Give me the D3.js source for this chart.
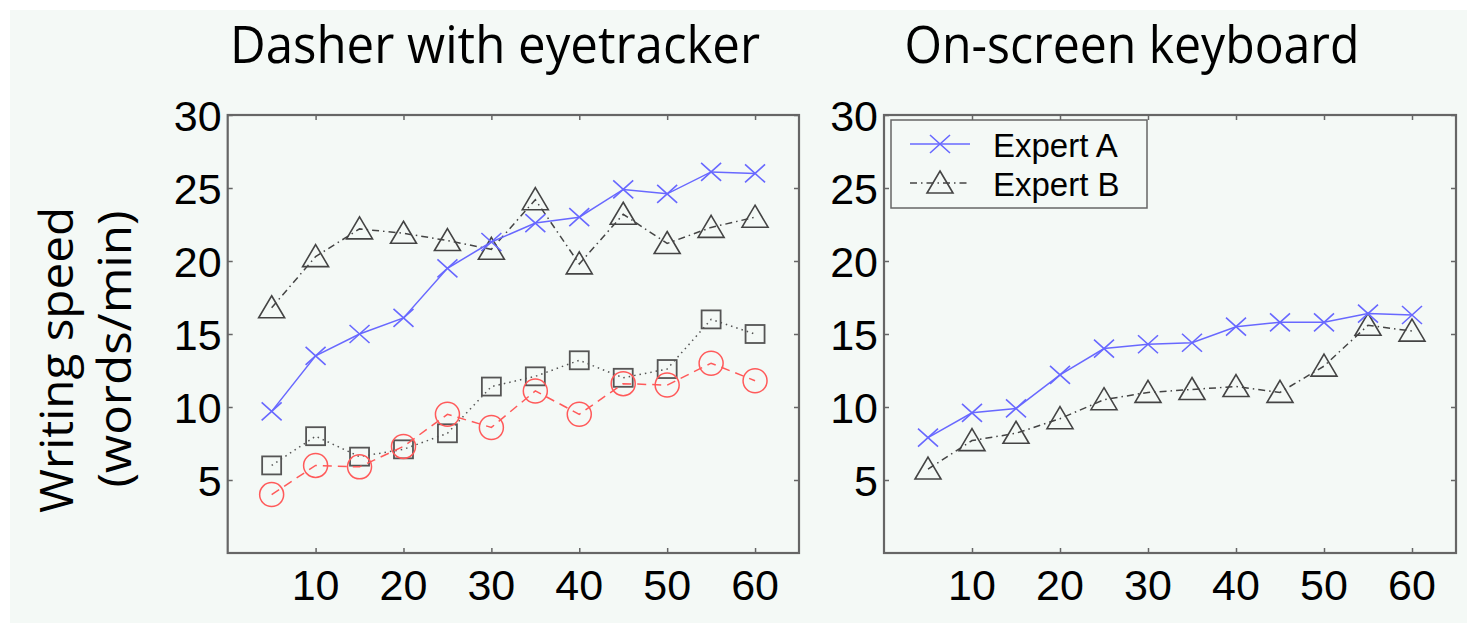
<!DOCTYPE html>
<html>
<head>
<meta charset="utf-8">
<script src="https://cdn.jsdelivr.net/npm/d3@7"></script>
<style>
  html, body { margin: 0; padding: 0; background: #fff; }
  svg { display: block; }
</style>
</head>
<body>
<svg id="chart" width="1467" height="623"></svg>
<script>
// minutes of practice
var minutes = [5, 10, 15, 20, 25, 30, 35, 40, 45, 50, 55, 60];

// Dasher with eyetracker
var dasherA      = [9.7, 13.5, 15.0, 16.1, 19.5, 21.3, 22.6, 23.0, 24.9, 24.6, 26.1, 26.0];
var dasherB      = [16.8, 20.3, 22.2, 21.9, 21.4, 20.8, 24.2, 19.8, 23.2, 21.2, 22.3, 23.0];
var dasherSquare = [6.0, 8.0, 6.6, 7.1, 8.2, 11.4, 12.1, 13.2, 12.0, 12.6, 16.0, 15.0];
var dasherCircle = [4.0, 6.0, 5.9, 7.3, 9.5, 8.6, 11.1, 9.5, 11.6, 11.5, 13.0, 11.8];

// On-screen keyboard
var keyboardA = [7.9, 9.6, 9.9, 12.2, 14.0, 14.3, 14.4, 15.5, 15.8, 15.8, 16.4, 16.3];
var keyboardB = [5.75, 7.7, 8.2, 9.2, 10.5, 11.0, 11.2, 11.4, 11.0, 12.8, 15.6, 15.2];

var xTicks = [10, 20, 30, 40, 50, 60];
var yTicks = [5, 10, 15, 20, 25, 30];
var panelTitles = ["Dasher with eyetracker", "On-screen keyboard"];
var legendLabels = ["Expert A", "Expert B"];
var yLabelLines = ["Writing speed", "(words/min)"];

var svg = d3.select("#chart");
var BG = "#f4f9f6", AXIS = "#666";

svg.append("rect").attr("x", 10).attr("y", 10).attr("width", 1457).attr("height", 613).attr("fill", BG);

// marker shapes
var markers = {
  x: function(g, c) {
    g.append("path").attr("d", "M-10,-9L10,9M-10,9L10,-9").attr("stroke", c).attr("stroke-width", 1.6).attr("fill", "none");
  },
  tri: function(g, c) {
    g.append("path").attr("d", "M0,-12L13,10L-13,10Z").attr("stroke", c).attr("stroke-width", 1.6).attr("fill", "none");
  },
  square: function(g, c) {
    g.append("rect").attr("x", -9.5).attr("y", -9).attr("width", 19).attr("height", 18)
      .attr("stroke", c).attr("stroke-width", 1.8).attr("fill", "none");
  },
  circle: function(g, c) {
    g.append("circle").attr("r", 12).attr("stroke", c).attr("stroke-width", 1.5).attr("fill", "none");
  }
};

var styles = {
  A:      {color: "#6868ff", dash: null,          marker: "x"},
  B:      {color: "#444",    dash: "7,4,1.5,4",   marker: "tri"},
  square: {color: "#555",    dash: "1.5,4",       marker: "square"},
  circle: {color: "#ff5a5a", dash: "9,6",         marker: "circle"}
};

// title: centre x and width as in the figure
function drawPanel(x0, x1, title, titleX, titleW, series) {
  var y0 = 115, y1 = 553;
  var x = d3.scaleLinear().domain([0, 65]).range([x0, x1]);
  var y = d3.scaleLinear().domain([0, 30]).range([y1, y0]);
  var g = svg.append("g");

  // box with inward ticks on all sides
  g.append("rect").attr("x", x0).attr("y", y0).attr("width", x1 - x0).attr("height", y1 - y0)
    .attr("fill", "none").attr("stroke", AXIS).attr("stroke-width", 2.2);

  var ax = [
    [d3.axisBottom(x), "translate(0," + y1 + ")", xTicks],
    [d3.axisTop(x), "translate(0," + y0 + ")", xTicks],
    [d3.axisLeft(y), "translate(" + x0 + ",0)", yTicks],
    [d3.axisRight(y), "translate(" + x1 + ",0)", yTicks]
  ];
  ax.forEach(function(a) {
    var s = g.append("g").attr("transform", a[1])
      .call(a[0].tickValues(a[2]).tickSize(-5).tickFormat(""));
    s.select(".domain").remove();
    s.selectAll("line").attr("stroke", AXIS).attr("stroke-width", 1.5);
  });

  g.selectAll(".xl").data(xTicks).enter().append("text")
    .attr("x", function(d) { return x(d); }).attr("y", y1 + 47)
    .attr("text-anchor", "middle").attr("font-family", "Liberation Sans, Arial, sans-serif")
    .attr("font-size", 43).attr("fill", "#000").text(function(d) { return d; });
  g.selectAll(".yl").data(yTicks).enter().append("text")
    .attr("x", x0 - 6).attr("y", function(d) { return y(d) + 16; })
    .attr("text-anchor", "end").attr("font-family", "Liberation Sans, Arial, sans-serif")
    .attr("font-size", 43).attr("fill", "#000").text(function(d) { return d; });

  g.append("text").attr("x", titleX - titleW / 2).attr("y", 63)
    .attr("textLength", titleW).attr("lengthAdjust", "spacingAndGlyphs")
    .attr("font-family", "Open Sans, sans-serif")
    .attr("font-size", 51).attr("fill", "#000").text(title);

  series.forEach(function(s) {
    var st = styles[s.style];
    var pts = minutes.map(function(m, i) { return [x(m), y(s.values[i])]; });
    g.append("path").attr("d", d3.line()(pts)).attr("fill", "none")
      .attr("stroke", st.color).attr("stroke-width", 1.5)
      .attr("stroke-dasharray", st.dash);
    pts.forEach(function(p) {
      markers[st.marker](g.append("g").attr("transform", "translate(" + p[0] + "," + p[1] + ")"), st.color);
    });
  });
}

drawPanel(227.7, 799, panelTitles[0], 495, 530, [
  {values: dasherSquare, style: "square"},
  {values: dasherCircle, style: "circle"},
  {values: dasherB, style: "B"},
  {values: dasherA, style: "A"}
]);
drawPanel(884, 1456, panelTitles[1], 1132, 455, [
  {values: keyboardB, style: "B"},
  {values: keyboardA, style: "A"}
]);

// y label, two lines reading upwards
var yLabelPos = [{c: 360, w: 306, base: 73}, {c: 349, w: 277, base: 131}];
yLabelLines.forEach(function(t, i) {
  var p = yLabelPos[i];
  svg.append("text").attr("transform", "translate(" + p.base + "," + (p.c + p.w / 2) + ") rotate(-90)")
    .attr("textLength", p.w).attr("lengthAdjust", "spacingAndGlyphs")
    .attr("font-family", "Open Sans, sans-serif")
    .attr("font-size", 46).attr("fill", "#000").text(t);
});

// legend
var lg = svg.append("g");
lg.append("rect").attr("x", 891).attr("y", 120).attr("width", 256).attr("height", 88)
  .attr("fill", BG).attr("stroke", AXIS).attr("stroke-width", 1.5);
["A", "B"].forEach(function(k, i) {
  var st = styles[k], ly = 144 + i * 39;
  lg.append("line").attr("x1", 910).attr("x2", 970).attr("y1", ly).attr("y2", ly)
    .attr("stroke", st.color).attr("stroke-width", 1.5).attr("stroke-dasharray", st.dash);
  markers[st.marker](lg.append("g").attr("transform", "translate(940," + ly + ")"), st.color);
  lg.append("text").attr("x", 993).attr("y", ly + 13)
    .attr("font-family", "Liberation Sans, Arial, sans-serif").attr("font-size", 33)
    .attr("fill", "#000").text(legendLabels[i]);
});
</script>
</body>
</html>
